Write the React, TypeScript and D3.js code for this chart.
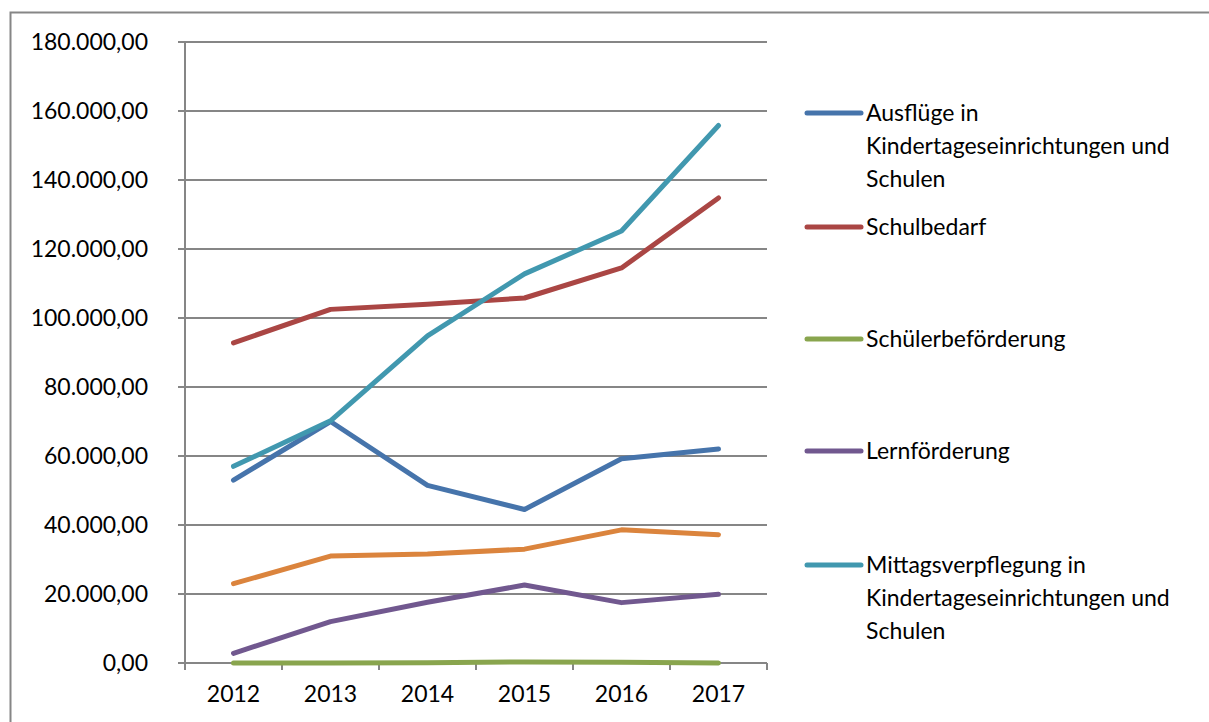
import React from "react";
import { scaleLinear, scaleBand, line, formatLocale, range } from "d3";

// categories and values
const years = ["2012", "2013", "2014", "2015", "2016", "2017"];

const ausfluege = [53000, 70000, 51500, 44500, 59200, 62000];
const schulbedarf = [92800, 102500, 104000, 105800, 114500, 134800];
const schuelerbefoerderung = [0, 0, 100, 300, 200, 0];
const lernfoerderung = [2800, 12000, 17600, 22600, 17500, 19900];
const mittagsverpflegung = [57000, 70200, 94800, 112800, 125200, 155800];
const teilhabe = [23000, 31000, 31600, 33000, 38600, 37200];

const yTicks = [0, 20000, 40000, 60000, 80000, 100000, 120000, 140000, 160000, 180000];

const series = [
  { label: ["Ausflüge in", "Kindertageseinrichtungen und", "Schulen"], values: ausfluege, color: "#4674ab" },
  { label: ["Schulbedarf"], values: schulbedarf, color: "#aa4644" },
  { label: ["Schülerbeförderung"], values: schuelerbefoerderung, color: "#89a54e" },
  { label: ["Lernförderung"], values: lernfoerderung, color: "#71588f" },
  { label: ["Mittagsverpflegung in", "Kindertageseinrichtungen und", "Schulen"], values: mittagsverpflegung, color: "#4198af" },
  // legend entry for this one is cut off in the picture
  { label: [], values: teilhabe, color: "#db843d" },
];

const legendY = [113, 227, 339, 451, 565];

const de = formatLocale({ decimal: ",", thousands: ".", grouping: [3], currency: ["", " €"] });
const fmt = de.format(",.2f");

const W = 1209;
const H = 722;
const left = 185;
const right = 767;
const top = 42;
const bottom = 663;
const grid = "#868686";
const font = "Lato, 'Open Sans', sans-serif";
const fs = 23;

export default function App() {
  const x = scaleBand().domain(years).range([left, right]);
  const y = scaleLinear().domain([0, 180000]).range([bottom, top]);

  const path = line<number>()
    .x((_, i) => x(years[i])! + x.bandwidth() / 2)
    .y((v) => y(v));

  return (
    <svg width={W} height={H} style={{ position: "absolute", left: 0, top: 0, background: "#fff" }} fontFamily={font}>
      {/* chart frame, cut at right and bottom */}
      <path d={`M10.5,${H} V12.5 H${W}`} fill="none" stroke={grid} strokeWidth={2} />

      {/* gridlines + y axis */}
      {yTicks.map((t) => (
        <g key={t}>
          <line x1={left - 7} x2={right} y1={y(t)} y2={y(t)} stroke={grid} strokeWidth={2} />
          <text x={148} y={y(t)} dy="0.35em" textAnchor="end" fontSize={fs} fill="#000">
            {fmt(t)}
          </text>
        </g>
      ))}
      <line x1={left} x2={left} y1={top} y2={bottom + 7} stroke={grid} strokeWidth={2} />

      {/* x axis ticks between categories */}
      {range(years.length + 1).map((i) => {
        const xx = left + i * x.step();
        return <line key={i} x1={xx} x2={xx} y1={bottom} y2={bottom + 7} stroke={grid} strokeWidth={2} />;
      })}
      {years.map((yr) => (
        <text key={yr} x={x(yr)! + x.bandwidth() / 2} y={694} dy="0.35em" textAnchor="middle" fontSize={fs} fill="#000">
          {yr}
        </text>
      ))}

      {/* lines */}
      {series.map((s, i) => (
        <path
          key={i}
          d={path(s.values)!}
          fill="none"
          stroke={s.color}
          strokeWidth={5}
          strokeLinecap="round"
          strokeLinejoin="round"
        />
      ))}

      {/* legend */}
      {series.slice(0, 5).map((s, i) => (
        <g key={i} transform={`translate(0,${legendY[i]})`}>
          <line x1={807} x2={861} y1={0} y2={0} stroke={s.color} strokeWidth={5} strokeLinecap="round" />
          {s.label.map((ln, j) => (
            <text key={j} x={866} y={j * 33} dy="0.35em" fontSize={fs} fill="#000">
              {ln}
            </text>
          ))}
        </g>
      ))}
    </svg>
  );
}
